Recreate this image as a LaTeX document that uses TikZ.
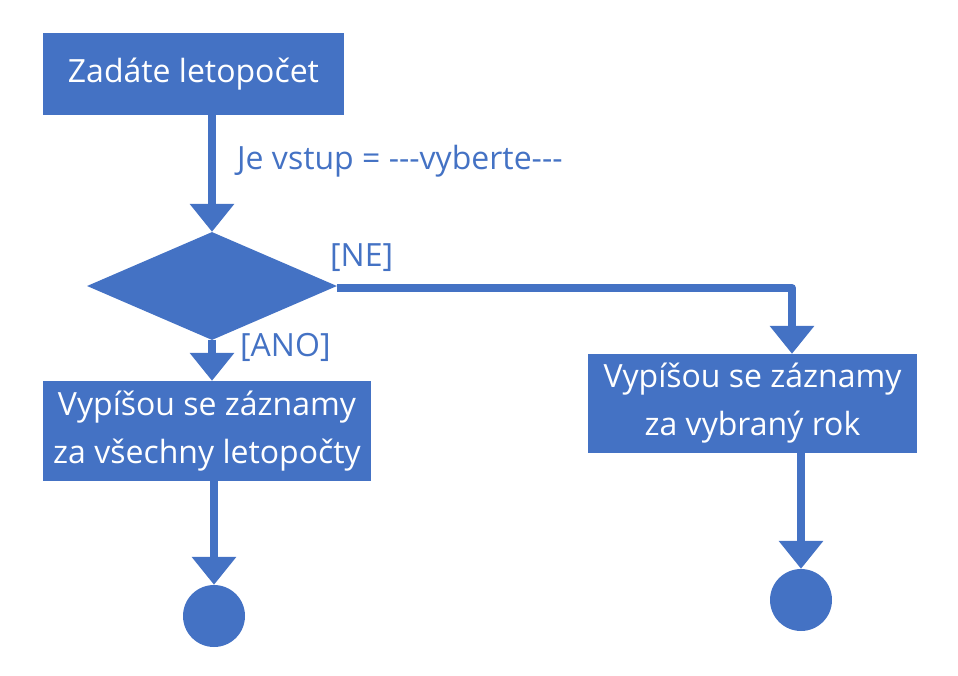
\documentclass[tikz,border=0pt]{standalone}
\usepackage{fontspec}
\setmainfont{Open Sans}
\usetikzlibrary{shapes.geometric,arrows.meta}
\definecolor{ublue}{HTML}{4472C4}
\begin{document}
\begin{tikzpicture}[x=1pt,y=-1pt,
  box/.style={fill=ublue,draw=none,text=white,inner sep=0pt,align=center,
    font=\fontsize{32}{48}\selectfont},
  lbl/.style={text=ublue,inner sep=0pt,anchor=west,font=\fontsize{32}{38}\selectfont},
  flow/.style={draw=ublue,line width=8pt,-{Triangle[width=43pt,length=28pt]}},
  endpt/.style={circle,fill=ublue,draw=none,minimum size=62pt,inner sep=0pt}]
\useasboundingbox (0,0) rectangle (958,675);
\node[box,minimum width=301pt,minimum height=82pt] (top) at (193.5,74) {Zadáte letopočet};
\node[diamond,fill=ublue,draw=none,inner sep=0pt,aspect=2.3,minimum width=250pt,minimum height=108pt] (dia) at (212,286) {};
\node[box,minimum width=328pt,minimum height=100pt] (left) at (207,431) {Vypíšou se záznamy\\za všechny letopočty};
\node[box,minimum width=329pt,minimum height=99pt] (right) at (752.5,403.5) {Vypíšou se záznamy\\za vybraný rok};
\node[endpt] (end1) at (214,616) {};
\node[endpt] (end2) at (801,600) {};
\coordinate (corner) at (792,288);
\node[lbl] (cond) at (237,161) {Je vstup = -{}-{}-vyberte-{}-{}-};
\node[lbl] (ne) at (330,258) {[NE]};
\node[lbl] (ano) at (240,347) {[ANO]};
\draw[flow] (dia.north |- top.south) -- (dia.north);
\draw[flow] (dia.south) -- (dia.south |- left.north);
\draw[flow,line join=round] (dia.east |- corner) -- (corner) -- (corner |- right.north);
\draw[flow] (end1.north |- left.south) -- (end1.north);
\draw[flow] (end2.north |- right.south) -- (end2.north);
\end{tikzpicture}
\end{document}
